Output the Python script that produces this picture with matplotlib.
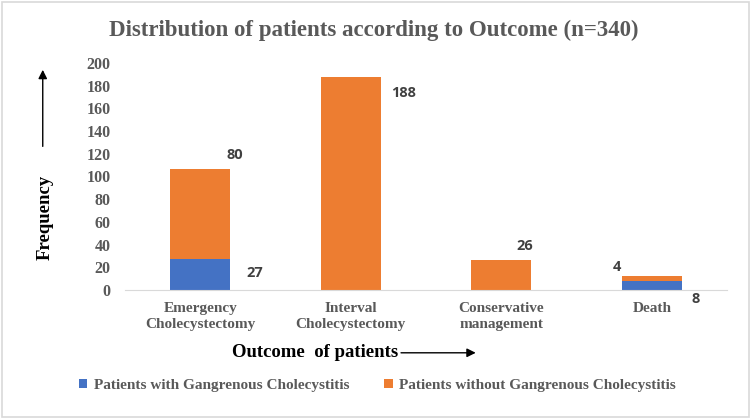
import matplotlib

matplotlib.use("Agg")
import matplotlib.pyplot as plt
from matplotlib.patches import Rectangle, FancyArrowPatch
import numpy as np

categories = ["Emergency\nCholecystectomy", "Interval\nCholecystectomy",
              "Conservative\nmanagement", "Death"]
with_gc = [27, 0, 0, 8]
without_gc = [80, 188, 26, 4]
series_names = ["Patients with Gangrenous Cholecystitis",
                "Patients without Gangrenous Cholecystitis"]
yticks = list(range(0, 201, 20))

BLUE = "#4472C4"
ORANGE = "#ED7D31"
GRAY = "#595959"
SERIF = "Liberation Serif"

fig = plt.figure(figsize=(7.5, 4.19), dpi=100)
fig.patches.append(Rectangle((0.002, 0.004), 0.996, 0.992, transform=fig.transFigure,
                             fill=False, edgecolor="#D9D9D9", linewidth=1.2))
ax = fig.add_axes([0.1667, 0.3079, 0.8027, 0.5418])

x = np.arange(len(categories))
w = 0.4
ax.bar(x, with_gc, w, color=BLUE, label=series_names[0])
ax.bar(x, without_gc, w, bottom=with_gc, color=ORANGE, label=series_names[1])

ax.set_xlim(-0.5, len(categories) - 0.5)
ax.set_ylim(0, 200)
ax.set_yticks(yticks)
ax.set_xticks(x)
ax.set_xticklabels(categories, fontfamily=SERIF, fontweight="bold",
                   fontsize=11, color=GRAY, linespacing=1.3)
for lab in ax.get_yticklabels():
    lab.set_fontfamily(SERIF)
    lab.set_fontweight("bold")
    lab.set_fontsize(11.5)
    lab.set_color(GRAY)
ax.tick_params(axis="x", length=0, pad=9)
ax.tick_params(axis="y", length=0, pad=10.5)
for s in ["top", "right", "left"]:
    ax.spines[s].set_visible(False)
ax.spines["bottom"].set_color("#D9D9D9")

# data labels: (value, anchor x, anchor y, offset in points)
lab_kw = dict(textcoords="offset points", fontsize=10.5, fontweight="bold",
              color="#404040", family="Open Sans", ha="center", va="center")
totals = [a + b for a, b in zip(with_gc, without_gc)]
ax.annotate(str(without_gc[0]), (x[0], totals[0]), xytext=(25, 9.4), **lab_kw)
ax.annotate(str(with_gc[0]), (x[0], with_gc[0]), xytext=(39, -9.8), **lab_kw)
ax.annotate(str(without_gc[1]), (x[1], totals[1]), xytext=(38, -11.8), **lab_kw)
ax.annotate(str(without_gc[2]), (x[2], totals[2]), xytext=(16.6, 10.4), **lab_kw)
ax.annotate(str(without_gc[3]), (x[3], totals[3]), xytext=(-25.2, 6.8), **lab_kw)
ax.annotate(str(with_gc[3]), (x[3], 0), xytext=(31.7, -6.5), **lab_kw)

# titles
fig.text(0.498, 0.928, "Distribution of patients according to Outcome (n=340)",
         ha="center", va="center", fontsize=16.5, fontweight="bold",
         family=SERIF, color=GRAY)
fig.text(0.06, 0.48, "Frequency", rotation=90, ha="center", va="center",
         fontsize=13.5, fontweight="bold", family=SERIF, color="black")
fig.text(0.309, 0.158, "Outcome  of patients", ha="left", va="center",
         fontsize=13.5, fontweight="bold", family=SERIF, color="black")

# arrows
fig.patches.append(FancyArrowPatch((0.057, 0.644), (0.057, 0.84), transform=fig.transFigure,
                                   arrowstyle="-|>", mutation_scale=13, color="black", lw=1))
fig.patches.append(FancyArrowPatch((0.531, 0.158), (0.638, 0.158), transform=fig.transFigure,
                                   arrowstyle="-|>", mutation_scale=13, color="black", lw=1))

leg = fig.legend(loc="center", bbox_to_anchor=(0.503, 0.081), ncol=2, frameon=False,
                 prop={"family": SERIF, "weight": "bold", "size": 11},
                 handlelength=0.55, handleheight=0.55, handletextpad=0.4,
                 columnspacing=2.3)
for t in leg.get_texts():
    t.set_color(GRAY)

fig.savefig("out.png", dpi=100)
